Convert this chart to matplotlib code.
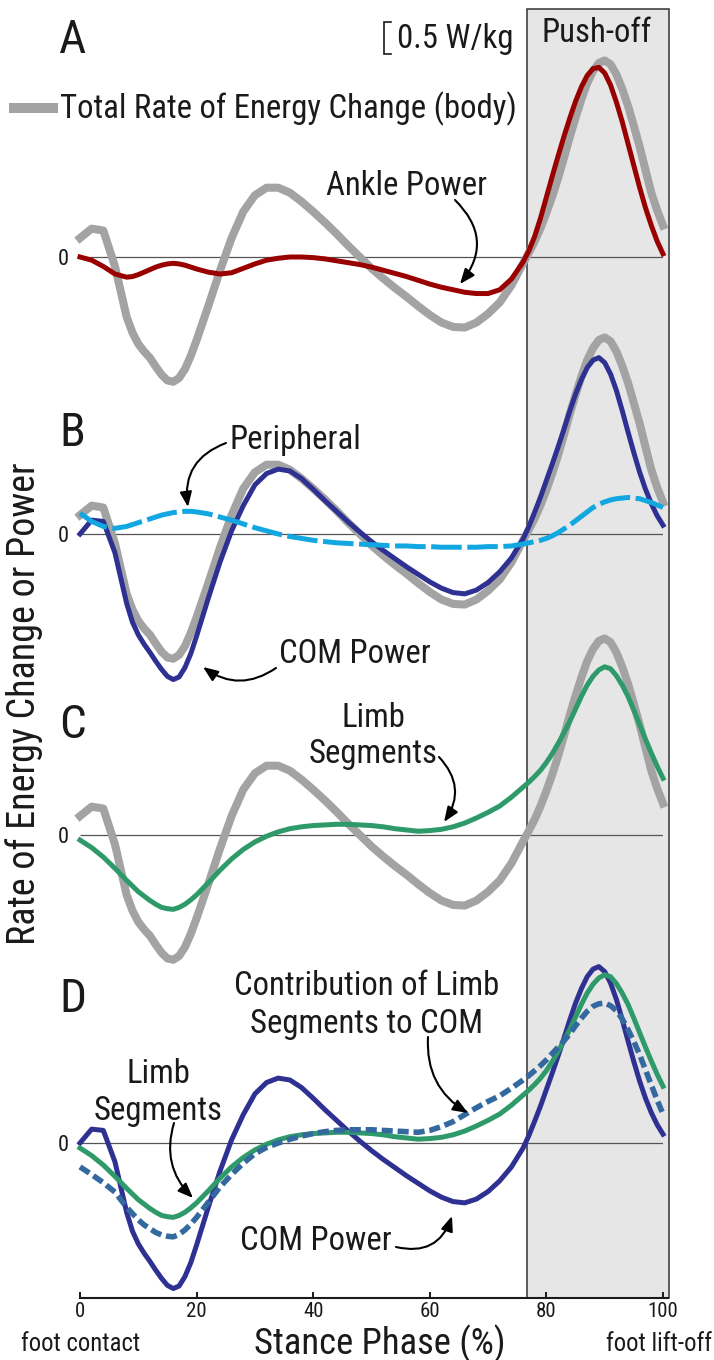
import numpy as np
import matplotlib
matplotlib.use("Agg")
import matplotlib.pyplot as plt
from matplotlib import font_manager
from matplotlib.patches import FancyArrowPatch, Rectangle
from matplotlib.lines import Line2D

# ---------------- data (W/kg vs % stance) ----------------
stance_pct = ([0, 2, 4, 6, 8] + list(range(9, 21)) + list(range(22, 77, 2))
              + list(range(77, 101)))
total_body = [0.30, 0.45, 0.42, -0.15, -0.95,
              -1.20, -1.38, -1.50, -1.60, -1.74, -1.87, -1.96, -1.98, -1.92, -1.78, -1.57, -1.32,
              -0.78, -0.22, 0.30, 0.72, 0.98, 1.10, 1.10, 1.02, 0.88, 0.72, 0.55, 0.37, 0.18, 0.00,
              -0.18, -0.34, -0.49, -0.63, -0.78, -0.92, -1.04, -1.11, -1.12, -1.04, -0.90, -0.72,
              -0.45, -0.10,
              0.07, 0.25, 0.46, 0.70, 0.96, 1.25, 1.57, 1.90, 2.21, 2.50, 2.76, 2.95, 3.08, 3.12,
              3.06, 2.90, 2.67, 2.40, 2.08, 1.75, 1.38, 1.02, 0.74, 0.50]
ankle_power = [0.00, -0.05, -0.15, -0.27, -0.32,
               -0.31, -0.28, -0.24, -0.20, -0.16, -0.13, -0.11, -0.10, -0.11, -0.13, -0.16, -0.19,
               -0.24, -0.27, -0.25, -0.18, -0.11, -0.05, -0.02, 0.00, 0.00, -0.01, -0.03, -0.06,
               -0.09, -0.12, -0.16, -0.21, -0.26, -0.31, -0.37, -0.43, -0.48, -0.52, -0.56, -0.58,
               -0.58, -0.52, -0.35, -0.08,
               0.10, 0.33, 0.62, 0.95, 1.28, 1.60, 1.91, 2.20, 2.47, 2.70, 2.88, 2.99, 3.01, 2.92,
               2.73, 2.46, 2.15, 1.80, 1.45, 1.10, 0.78, 0.50, 0.25, 0.05]
com_power = [0.00, 0.22, 0.20, -0.30, -1.10,
             -1.40, -1.60, -1.75, -1.88, -2.02, -2.15, -2.26, -2.31, -2.27, -2.12, -1.90, -1.62,
             -1.02, -0.45, 0.05, 0.45, 0.78, 0.96, 1.03, 1.00, 0.88, 0.71, 0.53, 0.36, 0.19, 0.03,
             -0.12, -0.26, -0.39, -0.52, -0.64, -0.76, -0.86, -0.93, -0.95, -0.89, -0.77, -0.60,
             -0.38, -0.08,
             0.12, 0.35, 0.59, 0.85, 1.11, 1.38, 1.66, 1.95, 2.22, 2.45, 2.64, 2.76, 2.80, 2.72,
             2.54, 2.28, 1.96, 1.62, 1.29, 0.98, 0.71, 0.48, 0.29, 0.14]
peripheral = [0.33, 0.20, 0.12, 0.09, 0.12,
              0.15, 0.18, 0.21, 0.24, 0.27, 0.30, 0.32, 0.34, 0.35, 0.36, 0.36, 0.35,
              0.32, 0.27, 0.22, 0.16, 0.10, 0.05, 0.00, -0.04, -0.07, -0.10, -0.12, -0.14, -0.15,
              -0.16, -0.17, -0.18, -0.19, -0.19, -0.20, -0.20, -0.21, -0.21, -0.21, -0.21, -0.20,
              -0.20, -0.19, -0.16,
              -0.14, -0.12, -0.10, -0.07, -0.03, 0.02, 0.08, 0.14, 0.21, 0.28, 0.35, 0.42, 0.47,
              0.51, 0.54, 0.56, 0.57, 0.58, 0.57, 0.56, 0.53, 0.50, 0.46, 0.42]
limb_segments = [-0.08, -0.20, -0.35, -0.53, -0.72,
                 -0.81, -0.90, -0.97, -1.04, -1.10, -1.15, -1.17, -1.18, -1.15, -1.10, -1.03, -0.95,
                 -0.76, -0.56, -0.38, -0.23, -0.11, -0.02, 0.05, 0.10, 0.13, 0.15, 0.16, 0.17, 0.17,
                 0.16, 0.15, 0.13, 0.10, 0.08, 0.06, 0.07, 0.09, 0.13, 0.19, 0.27, 0.36, 0.46,
                 0.60, 0.76,
                 0.84, 0.93, 1.03, 1.15, 1.29, 1.45, 1.62, 1.80, 2.00, 2.20, 2.38, 2.52, 2.62, 2.67,
                 2.64, 2.53, 2.38, 2.20, 1.98, 1.75, 1.52, 1.30, 1.09, 0.90]
limb_to_com = [-0.38, -0.50, -0.63, -0.78, -1.02,
               -1.12, -1.22, -1.30, -1.36, -1.42, -1.46, -1.48, -1.49, -1.45, -1.38, -1.29, -1.18,
               -0.94, -0.70, -0.50, -0.32, -0.17, -0.07, 0.00, 0.06, 0.11, 0.15, 0.18, 0.20, 0.21,
               0.21, 0.21, 0.20, 0.19, 0.18, 0.17, 0.20, 0.26, 0.34, 0.45, 0.56, 0.66, 0.75,
               0.87, 1.00,
               1.07, 1.15, 1.23, 1.32, 1.42, 1.52, 1.62, 1.73, 1.86, 1.98, 2.09, 2.17, 2.21, 2.22,
               2.18, 2.10, 1.97, 1.80, 1.61, 1.40, 1.16, 0.92, 0.68, 0.46]
x_ticks = [0, 20, 40, 60, 80, 100]
x_tick_labels = ["0", "20", "40", "60", "80", "100"]
pushoff_range = (76.6, 101.1)
scale_bar_value = 0.5
panel_letters = ["A", "B", "C", "D"]

# ---------------- style ----------------
GRAY = "#a3a3a3"
RED = "#990000"
NAVY = "#2e3192"
SKY = "#12a7e0"
GREEN = "#2f9a69"
STEEL = "#3469a0"
SHADE = "#e6e6e6"
TXT = "#1a1a1a"

avail = {f.name for f in font_manager.fontManager.ttflist}
FONT = "DejaVu Sans"
for cand in ["Liberation Sans Narrow", "Roboto Condensed", "Open Sans Condensed",
             "Roboto", "Liberation Sans", "DejaVu Sans"]:
    if cand in avail:
        FONT = cand
        break
plt.rcParams["font.family"] = [FONT, "DejaVu Sans"]
plt.rcParams["lines.scale_dashes"] = False
plt.rcParams["xtick.labelsize"] = 15
plt.rcParams["ytick.labelsize"] = 16

W, H = 714, 1360
fig = plt.figure(figsize=(W / 100, H / 100), dpi=100)
fig.patch.set_facecolor("white")

X0_PX, X100_PX = 80, 663          # pixel columns of 0 % and 100 %
BASE_PX = 1298                    # pixel row of the x-axis
PPU = 63.0                        # pixels per W/kg
ax = fig.add_axes([X0_PX / W, 0, (X100_PX - X0_PX) / W, 1])
ax.set_xlim(0, 100)
ax.set_ylim((BASE_PX - H) / PPU, BASE_PX / PPU)
ax.patch.set_alpha(0)

def yv(py):
    return (BASE_PX - py) / PPU

zero_rows = [257, 534, 835, 1143]
offs = [yv(p) for p in zero_rows]
oA, oB, oC, oD = offs

# push-off box
box_top = yv(9)
ax.add_patch(Rectangle((pushoff_range[0], 0), pushoff_range[1] - pushoff_range[0], box_top,
                       facecolor=SHADE, edgecolor="#333333", lw=1.1, clip_on=False, zorder=0))

# zero lines
ax.hlines(offs, 0, 100, color="#555555", lw=0.9, zorder=1)

xs = np.array(stance_pct)
def P(vals, off, **kw):
    ax.plot(xs, np.array(vals) + off, clip_on=False, solid_joinstyle="round",
            dash_joinstyle="round", **kw)

GW = 5.8
LW = 3.6
# A
P(total_body, oA, color=GRAY, lw=GW, zorder=3)
P(ankle_power, oA, color=RED, lw=LW, zorder=4)
# B
P(total_body, oB, color=GRAY, lw=GW, zorder=3)
P(com_power, oB, color=NAVY, lw=LW, zorder=4)
P(peripheral, oB, color=SKY, lw=LW, zorder=5, dashes=(22, 4), dash_capstyle="butt")
# C
P(total_body, oC, color=GRAY, lw=GW, zorder=3)
P(limb_segments, oC, color=GREEN, lw=LW, zorder=4)
# D
P(com_power, oD, color=NAVY, lw=LW, zorder=3)
P(limb_segments, oD, color=GREEN, lw=LW, zorder=4)
P(limb_to_com, oD, color=STEEL, lw=LW + 0.4, zorder=5, dashes=(8, 3.5), dash_capstyle="butt")

# axes decoration
for s in ["top", "right", "left"]:
    ax.spines[s].set_visible(False)
ax.spines["bottom"].set_position(("data", 0))
ax.spines["bottom"].set_bounds(0, 100.8)
ax.spines["bottom"].set_linewidth(1.5)
ax.spines["bottom"].set_color(TXT)
ax.set_xticks(x_ticks)
ax.set_xticklabels(x_tick_labels, fontsize=15)
ax.set_yticks(offs)
ax.set_yticklabels(["0"] * 4, fontsize=16)
ax.tick_params(axis="x", direction="in", length=4, width=1.4, colors=TXT, pad=3)
ax.tick_params(axis="y", length=0, pad=8, colors=TXT)

# scale bar (0.5 W/kg)
sb_top = yv(22)
sb_x = (384 - X0_PX) / ((X100_PX - X0_PX) / 100)
sb_x2 = (391 - X0_PX) / ((X100_PX - X0_PX) / 100)
ax.plot([sb_x2, sb_x, sb_x, sb_x2], [sb_top, sb_top, sb_top - scale_bar_value, sb_top - scale_bar_value],
        color=TXT, lw=1.2, clip_on=False, solid_joinstyle="miter")

# legend swatch
fig.add_artist(Line2D([14 / W, 53 / W], [1 - 108 / H, 1 - 108 / H], color=GRAY, lw=7.2,
                      transform=fig.transFigure))

def ftxt(s, xp, yp, ha="left", va="baseline", **kw):
    return fig.text(xp / W, 1 - yp / H, s, ha=ha, va=va, color=TXT, **kw)

renderer = fig.canvas.get_renderer()
def width_of(t):
    return t.get_window_extent(renderer).width

# annotation-size group
ann = [
    ("Total Rate of Energy Change (body)", 59.5, 118, "left", 457),
    ("0.5 W/kg", 397, 48, "left", 110),
    ("Push-off", 597, 42, "center", 107),
    ("Ankle Power", 326, 195, "left", 161),
    ("Peripheral", 229, 449, "left", 130),
    ("COM Power", 279, 663, "left", 151),
    ("Limb", 373, 727, "center", 64),
    ("Segments", 373, 763, "center", 128),
    ("Contribution of Limb", 367, 995, "center", 272),
    ("Segments to COM", 367, 1033, "center", 236),
    ("Limb", 158, 1083, "center", 64),
    ("Segments", 158, 1120, "center", 128),
    ("COM Power", 240, 1250, "left", 154),
]
objs = []
sizes = []
for s, xp, yp, ha, tw in ann:
    t = ftxt(s, xp, yp, ha=ha, fontsize=20)
    sizes.append(20 * tw / width_of(t))
    objs.append(t)
fs_ann = float(np.median(sizes))
for t in objs:
    t.set_fontsize(fs_ann)

# small labels
fc = ftxt("foot contact", 81, 1351, ha="center", fontsize=14)
fs_small = 14 * 120 / width_of(fc)
fc.set_fontsize(fs_small)
ftxt("foot lift-off", 712, 1351, ha="right", fontsize=fs_small)

# x label
xl = ftxt("Stance Phase (%)", 380, 1354, ha="center", fontsize=24)
xl.set_fontsize(24 * 252 / width_of(xl))

# y label
yl = ftxt("Rate of Energy Change or Power", 24, 704, ha="center", va="center",
          rotation=90, fontsize=24)
yl.set_fontsize(24 * 483 / yl.get_window_extent(renderer).height)

# panel letters
for letter, yp in zip(panel_letters, [53, 446, 738, 1012]):
    ftxt(letter, 59, yp, ha="left", fontsize=34)

# arrows
def arrow(p0, p1, rad):
    a = FancyArrowPatch((p0[0] / W, 1 - p0[1] / H), (p1[0] / W, 1 - p1[1] / H),
                        transform=fig.transFigure,
                        connectionstyle=f"arc3,rad={rad}",
                        arrowstyle="-|>,head_length=0.75,head_width=0.3",
                        mutation_scale=12, lw=1.5, color="black",
                        shrinkA=0, shrinkB=0, zorder=10)
    fig.add_artist(a)

arrow((455, 200), (460, 284), -0.45)     # Ankle Power
arrow((226, 443), (188, 507), 0.4)       # Peripheral
arrow((276, 668), (203, 667), -0.35)     # COM Power (B)
arrow((439, 757), (444, 822), -0.4)      # Limb Segments (C)
arrow((428, 1037), (468, 1113), 0.3)     # Contribution (D)
arrow((174, 1123), (193, 1198), 0.3)     # Limb Segments (D)
arrow((396, 1247), (452, 1216), 0.45)    # COM Power (D)

fig.savefig("out.png", dpi=100, facecolor="white")
